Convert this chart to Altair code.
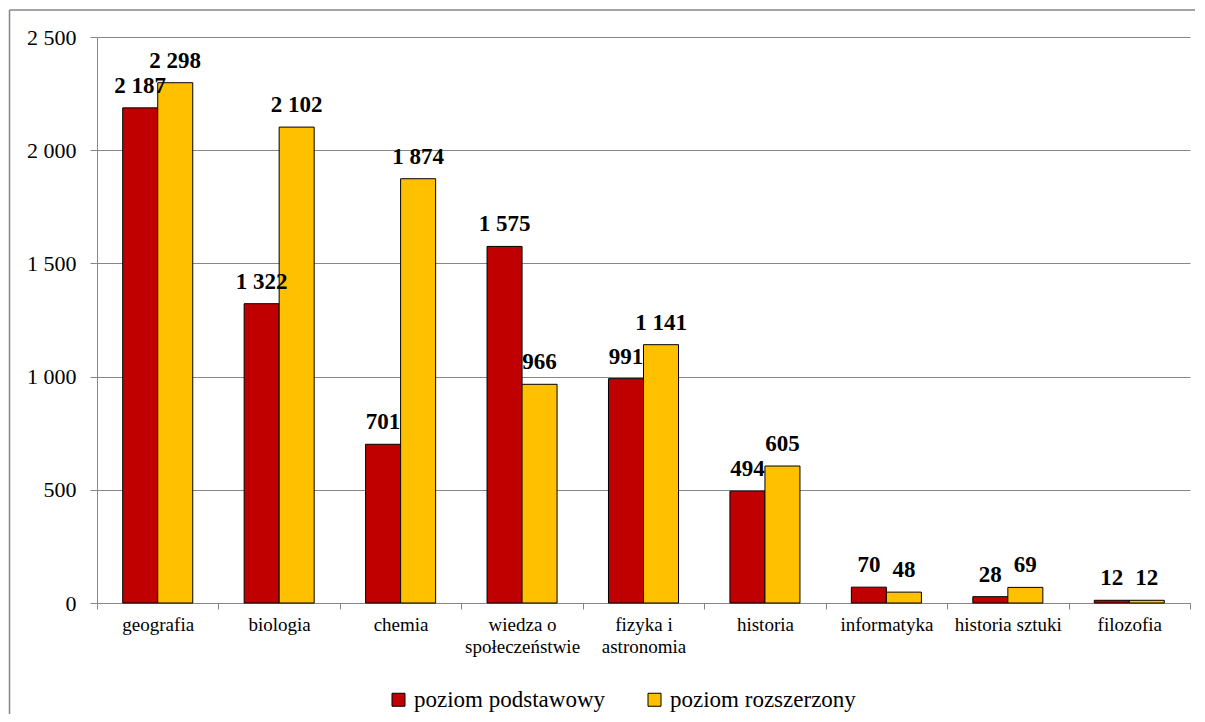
import altair as alt
import pandas as pd

categories = ["geografia", "biologia", "chemia", "wiedza o|społeczeństwie",
              "fizyka i|astronomia", "historia", "informatyka", "historia sztuki", "filozofia"]
series = ["poziom podstawowy", "poziom rozszerzony"]
podstawowy = [2187, 1322, 701, 1575, 991, 494, 70, 28, 12]
rozszerzony = [2298, 2102, 1874, 966, 1141, 605, 48, 69, 12]
colors = ["#C00000", "#FFC000"]
y_ticks = [0, 500, 1000, 1500, 2000, 2500]

rows = []
for c, a, b in zip(categories, podstawowy, rozszerzony):
    rows.append({"kategoria": c, "poziom": series[0], "wartosc": a})
    rows.append({"kategoria": c, "poziom": series[1], "wartosc": b})
df = pd.DataFrame(rows)

FONT = "serif"
W, H = 1093, 566
GRAY = "#868686"

x_enc = alt.X(
    "kategoria:N", sort=categories, title=None,
    scale=alt.Scale(paddingInner=0, paddingOuter=0),
    axis=alt.Axis(labelExpr="split(datum.label, '|')", tickBand="extent",
                  labelAngle=0, labelFont=FONT, labelFontSize=19, labelColor="black",
                  labelLineHeight=22, labelPadding=6, tickSize=6, tickColor=GRAY,
                  domainColor=GRAY, grid=False, labelBaseline="top"),
)
xoff = alt.XOffset("poziom:N", sort=series,
                   scale=alt.Scale(paddingOuter=0.734, paddingInner=0))
y_enc = alt.Y(
    "wartosc:Q", title=None,
    scale=alt.Scale(domain=[0, 2500], nice=False),
    axis=alt.Axis(values=y_ticks, labelExpr="replace(format(datum.value, ','), ',', ' ')",
                  labelFont=FONT, labelFontSize=22, labelColor="black",
                  labelPadding=14, tickSize=7, tickColor=GRAY, domainColor=GRAY,
                  gridColor=GRAY, gridWidth=1),
)

bars = alt.Chart(df).mark_bar(stroke="black", strokeWidth=1).encode(
    x=x_enc, xOffset=xoff, y=y_enc,
    color=alt.Color("poziom:N", sort=series,
                    scale=alt.Scale(domain=series, range=colors),
                    legend=alt.Legend(title=None, orient="none", legendX=290, legendY=651,
                                      padding=0, direction="horizontal", symbolType="square",
                                      symbolSize=169, symbolStrokeColor="black",
                                      symbolStrokeWidth=1, labelFont=FONT,
                                      labelFontSize=23, labelColor="black",
                                      labelLimit=400, columnPadding=37, labelOffset=4)),
)

labels = alt.Chart(df).transform_calculate(
    lab="replace(format(datum.wartosc, ','), ',', ' ')"
).mark_text(font=FONT, fontSize=23, fontWeight="bold", color="black",
            baseline="alphabetic", dy=-15).encode(
    x=alt.X("kategoria:N", sort=categories),
    xOffset=alt.XOffset("poziom:N", sort=series),
    y=alt.Y("wartosc:Q"),
    text="lab:N",
)

frame = pd.DataFrame({"a": [0]})
border_left = alt.Chart(frame).mark_rule(stroke=GRAY, strokeWidth=1.5).encode(
    x=alt.value(-87.5), y=alt.value(-27), y2=alt.value(H + 200),
)
border_top = alt.Chart(frame).mark_rule(stroke=GRAY, strokeWidth=1.5).encode(
    x=alt.value(-87.5), x2=alt.value(W + 200), y=alt.value(-27),
)

chart = alt.layer(border_left, border_top, bars, labels).properties(
    width=W, height=H,
    autosize=alt.AutoSizeParams(type="none"),
    padding={"left": 89, "top": 29, "right": 5, "bottom": 111},
).configure_view(stroke=None)

chart.save("out.html", embed_options={"renderer": "svg", "actions": False})
